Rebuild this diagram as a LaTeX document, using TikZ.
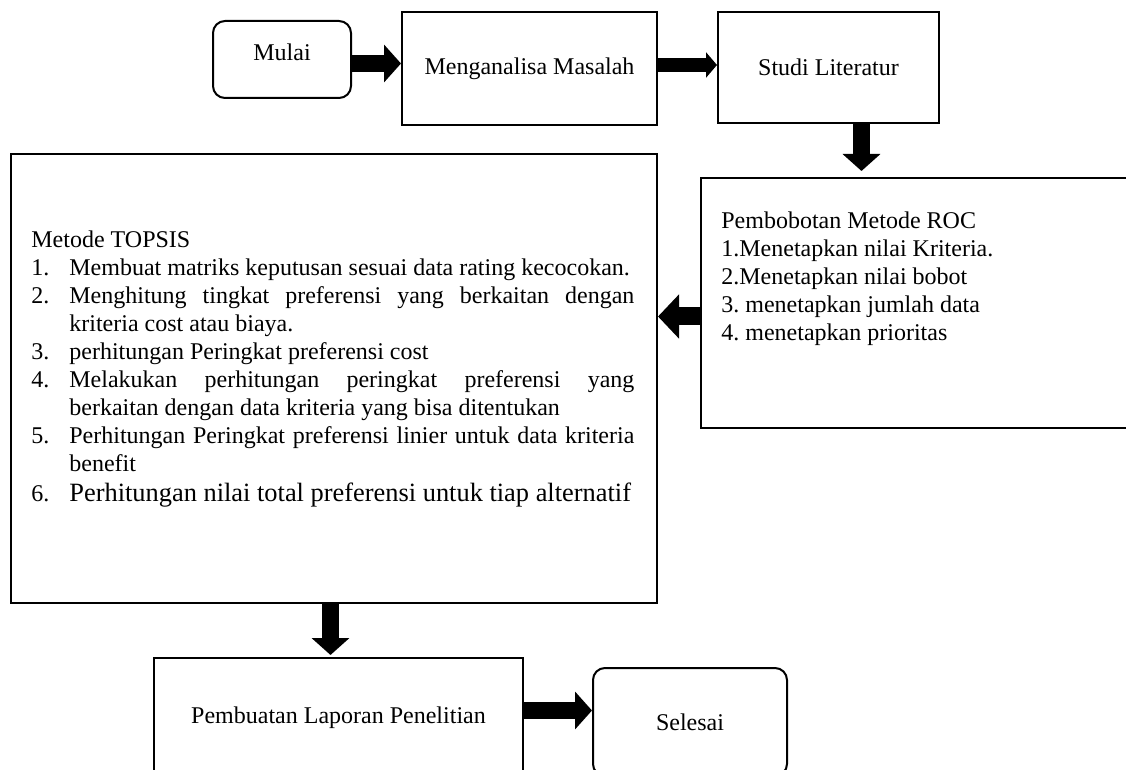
\documentclass[tikz,border=0pt]{standalone}
\usepackage{fontspec}
\setmainfont{Liberation Serif}
\usetikzlibrary{arrows.meta,positioning,calc}
\frenchspacing

\newcommand{\topitem}[2]{\par\hangindent=19pt\hangafter=1\noindent\makebox[19pt][l]{#1}#2}

\begin{document}
\begin{tikzpicture}[
  x=0.5pt, y=-0.5pt,
  box/.style={draw, line width=1pt, inner sep=0pt, align=center,
              font=\fontsize{12pt}{14pt}\selectfont},
  endbox/.style={box, rounded corners=6pt},
  txt/.style={inner sep=0pt, anchor=north west, font=\fontsize{12pt}{14pt}\selectfont},
  blockarr/.style={-{Triangle[length=8.5pt,width=18.5pt]}, line width=8.5pt},
  bigarr/.style={-{Triangle[length=10.5pt,width=21.5pt]}, line width=9pt},
  slimarr/.style={-{Triangle[length=5.5pt,width=12.5pt]}, line width=7pt}]

\useasboundingbox (0,0) rectangle (1126,770);
\clip (0,0) rectangle (1126,770);

% top row
\node[endbox, minimum width=69pt, minimum height=38.5pt, text height=8pt, text depth=6.5pt] (mulai) at (282,59.5) {Mulai};
\node[box, minimum width=127.5pt, minimum height=56.5pt] (mang) at (529.5,68.5) {Menganalisa Masalah};
\node[box, minimum width=110.5pt, minimum height=55.5pt] (studi) at (828.5,67.5) {Studi Literatur};

% methods
\node[box, minimum width=219.5pt, minimum height=125pt] (roc) at (920.5,303) {};
\node[txt, align=left] (roctext) at ($(roc.north west)+(21,34)$)
  {Pembobotan Metode ROC\\1.Menetapkan nilai Kriteria.\\2.Menetapkan nilai bobot\\3. menetapkan jumlah data\\4. menetapkan prioritas};

\node[box, minimum width=323pt, minimum height=224.5pt] (topsis) at (334,378.5) {};
\node[txt, text width=301.5pt, align=justify] (topsistext) at ($(topsis.north west)+(21,77)$)
  {\parindent=0pt\hyphenpenalty=10000\exhyphenpenalty=10000\tolerance=10000
   \noindent Metode TOPSIS
   \topitem{1.}{Membuat matriks keputusan sesuai data rating kecocokan.}
   \topitem{2.}{Menghitung tingkat preferensi yang berkaitan dengan kriteria cost atau biaya.}
   \topitem{3.}{perhitungan Peringkat preferensi cost}
   \topitem{4.}{Melakukan perhitungan peringkat preferensi yang berkaitan dengan data kriteria yang bisa ditentukan}
   \topitem{5.}{Perhitungan Peringkat preferensi linier untuk data kriteria benefit}
   \topitem{6.}{\fontsize{13.2pt}{15pt}\selectfont Perhitungan nilai total preferensi untuk tiap alternatif}\par};

% bottom row
\node[box, minimum width=184.5pt, minimum height=60pt] (lapor) at (338.5,718) {Pembuatan Laporan Penelitian};
\node[endbox, minimum width=97pt, minimum height=54pt] (selesai) at (690,722) {Selesai};

% arrows
\draw[blockarr] ($(mulai.east)+(0,4)$) -- ($(mang.west)+(0,-5)$);
\draw[slimarr] ($(mang.east)+(0,-3.5)$) -- ($(studi.west)+(0,-2.5)$);
\draw[blockarr, shorten >=3pt] ($(studi.south)+(33,0)$) -- ($(roc.north)+(-59,0)$);
\draw[bigarr] ($(roc.west)+(0,13.5)$) -- ($(topsis.east)+(0,-62)$);
\draw[blockarr, shorten >=1pt] ($(topsis.south)+(-3.5,0)$) -- ($(lapor.north)+(-8,0)$);
\draw[blockarr] ($(lapor.east)+(0,-7.5)$) -- ($(selesai.west)+(0,-11.5)$);
\end{tikzpicture}
\end{document}
